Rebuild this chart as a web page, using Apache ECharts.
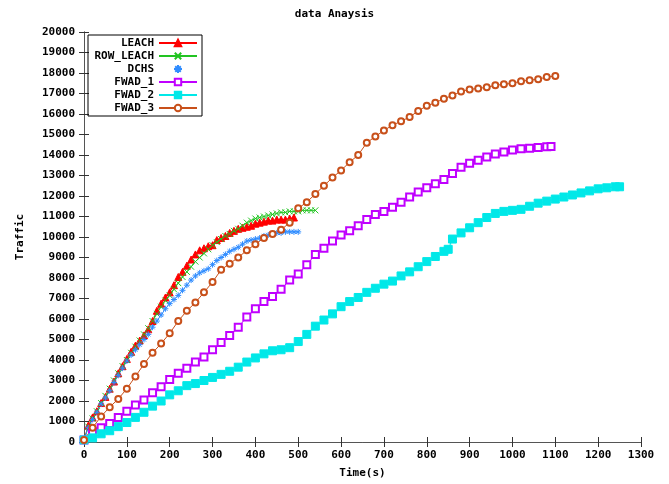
<!DOCTYPE html>
<html>
<head>
<meta charset="utf-8">
<script src="https://cdn.jsdelivr.net/npm/echarts@6/dist/echarts.min.js"></script>
<style>
html,body{margin:0;padding:0;background:#fff;}
#draw_1{width:669px;height:484px;}
</style>
</head>
<body>
<div id="draw_1"></div>
<script>
// time (s) and traffic for each protocol
var leachT = [0,10,20,30,40,50,60,70,80,90,100,110,120,130,140,150,160,170,180,190,200,210,220,230,240,250,260,270,280,290,300,310,320,330,340,350,360,370,380,390,400,410,420,430,440,450,460,470,480,490];
var leachV = [100,800,1200,1500,1900,2200,2600,2950,3350,3700,4050,4400,4700,4950,5200,5500,5900,6400,6750,7050,7300,7650,8050,8300,8600,8900,9150,9350,9450,9550,9600,9850,9950,10050,10200,10300,10400,10450,10500,10550,10650,10700,10750,10800,10800,10850,10850,10850,10900,10950];

var rowT = [0,10,20,30,40,50,60,70,80,90,100,110,120,130,140,150,160,170,180,190,200,210,220,230,240,250,260,270,280,290,300,310,320,330,340,350,360,370,380,390,400,410,420,430,440,450,460,470,480,490,500,510,520,530,540];
var rowV = [100,750,1150,1500,1900,2250,2600,3000,3350,3700,4000,4350,4650,4950,5250,5550,5900,6250,6600,6900,7150,7450,7750,8050,8300,8550,8800,9000,9200,9400,9600,9750,9900,10050,10150,10300,10400,10550,10700,10800,10900,10950,11000,11050,11100,11150,11200,11200,11250,11250,11250,11300,11300,11300,11300];

var dchsT = [0,10,20,30,40,50,60,70,80,90,100,110,120,130,140,150,160,170,180,190,200,210,220,230,240,250,260,270,280,290,300,310,320,330,340,350,360,370,380,390,400,410,420,430,440,450,460,470,480,490,500];
var dchsV = [100,700,1100,1450,1850,2150,2500,2900,3250,3600,3950,4250,4500,4750,5000,5250,5600,5900,6200,6500,6750,6950,7150,7400,7650,7900,8100,8250,8350,8450,8650,8850,9000,9150,9300,9400,9500,9650,9800,9850,9900,9950,10050,10100,10150,10200,10200,10250,10250,10250,10250];

var fwad1T = [0,20,40,60,80,100,120,140,160,180,200,220,240,260,280,300,320,340,360,380,400,420,440,460,480,500,520,540,560,580,600,620,640,660,680,700,720,740,760,780,800,820,840,860,880,900,920,940,960,980,1000,1020,1040,1060,1080,1090];
var fwad1V = [100,500,700,900,1200,1500,1800,2050,2400,2700,3050,3350,3600,3900,4150,4500,4850,5200,5600,6100,6500,6850,7100,7450,7900,8200,8650,9150,9450,9800,10100,10300,10550,10850,11100,11250,11450,11700,11950,12200,12400,12600,12800,13100,13400,13600,13750,13900,14050,14150,14250,14300,14330,14370,14400,14420];

var fwad2T = [0,20,40,60,80,100,120,140,160,180,200,220,240,260,280,300,320,340,360,380,400,420,440,460,480,500,520,540,560,580,600,620,640,660,680,700,720,740,760,780,800,820,840,850,860,880,900,920,940,960,980,1000,1020,1040,1060,1080,1100,1120,1140,1160,1180,1200,1220,1240,1250];
var fwad2V = [100,200,400,550,750,950,1200,1450,1750,2000,2300,2500,2750,2850,3000,3150,3300,3450,3650,3900,4100,4300,4450,4500,4600,4900,5250,5650,5950,6250,6600,6850,7050,7300,7500,7700,7850,8100,8300,8550,8800,9050,9300,9400,9900,10200,10450,10700,10950,11150,11250,11300,11350,11500,11650,11750,11850,11950,12050,12150,12250,12350,12400,12450,12450];

var fwad3T = [0,20,40,60,80,100,120,140,160,180,200,220,240,260,280,300,320,340,360,380,400,420,440,460,480,500,520,540,560,580,600,620,640,660,680,700,720,740,760,780,800,820,840,860,880,900,920,940,960,980,1000,1020,1040,1060,1080,1100];
var fwad3V = [100,700,1250,1700,2100,2600,3200,3800,4350,4800,5300,5900,6400,6800,7300,7800,8400,8700,9000,9350,9650,9950,10150,10350,10700,11400,11700,12100,12500,12900,13250,13650,14000,14600,14900,15200,15450,15650,15850,16150,16400,16550,16750,16900,17100,17200,17250,17300,17400,17450,17500,17600,17650,17700,17800,17850];

var xTicks = [0,100,200,300,400,500,600,700,800,900,1000,1100,1200,1300];

var myChart = echarts.init(document.getElementById('draw_1'));
var font = 'DejaVu Sans Mono';
var star = 'path://M5,0L5,10M0,5L10,5M1.5,1.5L8.5,8.5M8.5,1.5L1.5,8.5';
var cross = 'path://M0,0L10,10M10,0L0,10';

function pairs(t, v){
	var out = [];
	for(var i=0;i<t.length;i++){ out.push([t[i], v[i]]); }
	return out;
}
function line(name, t, v, color, symbol, size){
	return {
		name: name,
		type: 'line',
		data: pairs(t, v),
		symbol: symbol,
		symbolSize: size,
		showAllSymbol: true,
		animation: false,
		lineStyle: {color: color, width: 1},
		itemStyle: {color: color, borderColor: color, borderWidth: 1}
	};
}
function plain(v){ return String(v); }

var option = {
	animation: false,
	title: {
		text: 'data Anaysis',
		left: 'center',
		top: 4,
		textStyle: {fontFamily: font, fontSize: 11, fontWeight: 'bold', color: '#000'}
	},
	legend: {
		orient: 'vertical',
		left: 88,
		top: 35,
		align: 'right',
		itemWidth: 38,
		itemHeight: 8,
		itemGap: 1,
		padding: [2, 4, 2, 0],
		borderColor: '#000',
		borderWidth: 1,
		textStyle: {fontFamily: font, fontSize: 11, fontWeight: 'bold', color: '#000', width: 66, lineHeight: 12, align: 'right', overflow: 'truncate', ellipsis: ''},
		data: [
			{name: 'LEACH'},
			{name: 'ROW_LEACH'},
			{name: 'DCHS', icon: star},
			{name: 'FWAD_1'},
			{name: 'FWAD_2'},
			{name: 'FWAD_3'}
		]
	},
	grid: {left: 84, right: 28, top: 32, bottom: 42},
	xAxis: [{
		type: 'value',
		min: 0, max: 1300, interval: 100,
		name: 'Time(s)',
		nameLocation: 'middle',
		nameGap: 26,
		nameTextStyle: {fontFamily: font, fontSize: 11, fontWeight: 'bold', color: '#000'},
		axisLine: {lineStyle: {color: '#555', width: 1}},
		axisTick: {inside: true, length: 5, lineStyle: {color: '#333'}},
		axisLabel: {fontFamily: font, fontSize: 11, fontWeight: 'bold', color: '#000', margin: 8,
			customValues: xTicks, formatter: plain},
		splitLine: {show: false}
	}, {
		type: 'value', position: 'top',
		min: 0, max: 1300, interval: 100,
		axisLine: {lineStyle: {color: '#555', width: 1}},
		axisTick: {inside: true, length: 5, lineStyle: {color: '#333'}},
		axisLabel: {show: false},
		splitLine: {show: false}
	}],
	yAxis: [{
		type: 'value',
		min: 0, max: 20000, interval: 1000,
		name: 'Traffic',
		nameLocation: 'middle',
		nameRotate: 90,
		nameGap: 58,
		nameTextStyle: {fontFamily: font, fontSize: 11, fontWeight: 'bold', color: '#000'},
		axisLine: {show: true, lineStyle: {color: '#555', width: 1}},
		axisTick: {show: true, inside: true, length: 5, lineStyle: {color: '#333'}},
		axisLabel: {fontFamily: font, fontSize: 11, fontWeight: 'bold', color: '#000', margin: 9, formatter: plain},
		splitLine: {show: false}
	}, {
		type: 'value', position: 'right',
		min: 0, max: 20000, interval: 1000,
		axisLine: {show: true, lineStyle: {color: '#555', width: 1}},
		axisTick: {show: true, inside: true, length: 5, lineStyle: {color: '#333'}},
		axisLabel: {show: false},
		splitLine: {show: false}
	}],
	series: [
		line('LEACH', leachT, leachV, '#ff0000', 'triangle', 7),
		line('ROW_LEACH', rowT, rowV, '#22c422', cross, 6),
		line('DCHS', dchsT, dchsV, '#2f8cff', star, 6),
		line('FWAD_1', fwad1T, fwad1V, '#c000ff', 'emptyRect', 7),
		line('FWAD_2', fwad2T, fwad2V, '#00e8e8', 'rect', 8),
		line('FWAD_3', fwad3T, fwad3V, '#c8501a', 'emptyCircle', 6)
	]
};
myChart.setOption(option, true);
</script>
</body>
</html>
